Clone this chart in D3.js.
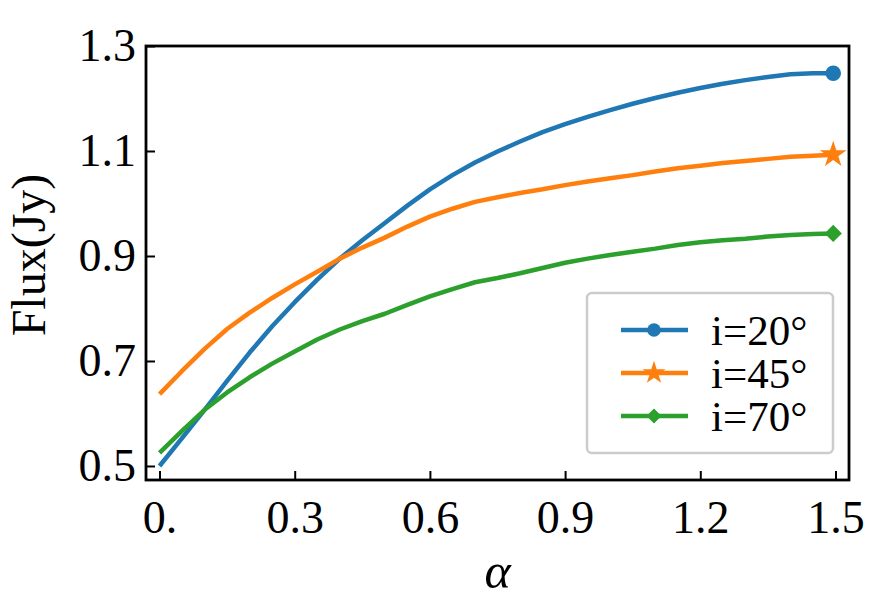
<!DOCTYPE html>
<meta charset="utf-8">
<script src="https://d3js.org/d3.v7.min.js"></script>
<style>
  body { margin: 0; background: #fff; }
  text { font-family: "Liberation Serif", "Times New Roman", serif; fill: #000; }
</style>
<div id="my_dataviz"></div>
<script>
// alpha values (x) and flux for each inclination
var alphas = [0, 0.05, 0.1, 0.15, 0.2, 0.25, 0.3, 0.35, 0.4, 0.45, 0.5, 0.55, 0.6, 0.65, 0.7, 0.75, 0.8, 0.85, 0.9, 0.95,
              1.0, 1.05, 1.1, 1.15, 1.2, 1.25, 1.3, 1.35, 1.4, 1.45, 1.495];
var flux20 = [0.500, 0.553, 0.607, 0.662, 0.716, 0.766, 0.812, 0.855, 0.895, 0.930, 0.963, 0.996, 1.027, 1.054, 1.078, 1.099, 1.118, 1.136, 1.151, 1.165,
              1.178, 1.190, 1.201, 1.211, 1.220, 1.228, 1.235, 1.241, 1.246, 1.248, 1.248];
var flux45 = [0.637, 0.681, 0.723, 0.761, 0.792, 0.820, 0.846, 0.870, 0.895, 0.916, 0.935, 0.956, 0.975, 0.990, 1.003, 1.012, 1.020, 1.027, 1.035, 1.042,
              1.048, 1.054, 1.061, 1.067, 1.072, 1.077, 1.081, 1.085, 1.089, 1.091, 1.093];
var flux70 = [0.525, 0.567, 0.607, 0.640, 0.669, 0.695, 0.718, 0.741, 0.760, 0.776, 0.790, 0.807, 0.823, 0.837, 0.850, 0.858, 0.867, 0.877, 0.887, 0.895,
              0.902, 0.908, 0.914, 0.921, 0.926, 0.930, 0.933, 0.937, 0.940, 0.942, 0.943];

var seriesNames = ["i=20°", "i=45°", "i=70°"];
var seriesColors = ["#1f77b4", "#ff7f0e", "#2ca02c"];

var xTicks = [0, 0.3, 0.6, 0.9, 1.2, 1.5];
var xTickLabels = ["0.", "0.3", "0.6", "0.9", "1.2", "1.5"];
var yTicks = [0.5, 0.7, 0.9, 1.1, 1.3];
var yTickLabels = ["0.5", "0.7", "0.9", "1.1", "1.3"];

var width = 872, height = 611;
var plot = {left: 146, right: 849, top: 46, bottom: 480};

var svg = d3.select("#my_dataviz")
  .append("svg")
    .attr("width", width)
    .attr("height", height);

var x = d3.scaleLinear()
  .domain([-0.03, 1.53])
  .range([plot.left, plot.right]);

var y = d3.scaleLinear()
  .domain([0.4733, 1.3])
  .range([plot.bottom, plot.top]);

// axes with inward ticks
var xAxis = svg.append("g")
  .attr("transform", "translate(0," + plot.bottom + ")")
  .call(d3.axisBottom(x).tickValues(xTicks).tickSize(-9).tickPadding(20)
    .tickFormat(function(d, i) { return xTickLabels[i]; }));
xAxis.select(".domain").remove();
xAxis.selectAll(".tick line").attr("stroke-width", 2);
xAxis.selectAll(".tick text")
  .attr("font-size", 46)
  .attr("font-family", "Liberation Serif")
  .attr("dy", "0.71em");

var yAxis = svg.append("g")
  .attr("transform", "translate(" + plot.left + ",0)")
  .call(d3.axisLeft(y).tickValues(yTicks).tickSize(-9).tickPadding(10)
    .tickFormat(function(d, i) { return yTickLabels[i]; }));
yAxis.select(".domain").remove();
yAxis.selectAll(".tick line").attr("stroke-width", 2);
yAxis.selectAll(".tick text")
  .attr("font-size", 46)
  .attr("font-family", "Liberation Serif");

// marker shapes (matplotlib style: circle, star, rotated square)
function marker(g, k, cx, cy, s) {
  if (k === 0) {
    g.append("circle").attr("cx", cx).attr("cy", cy).attr("r", 7.8 * s).attr("fill", seriesColors[k]);
  } else if (k === 1) {
    g.append("path")
      .attr("d", d3.symbol().type(d3.symbolStar).size(220 * s * s)())
      .attr("transform", "translate(" + cx + "," + cy + ")")
      .attr("fill", seriesColors[k]);
  } else {
    g.append("path")
      .attr("d", d3.symbol().type(d3.symbolSquare).size(150 * s * s)())
      .attr("transform", "translate(" + cx + "," + cy + ") rotate(45)")
      .attr("fill", seriesColors[k]);
  }
}

// lines
var allSeries = [flux20, flux45, flux70];
var line = d3.line()
  .x(function(d, i) { return x(alphas[i]); })
  .y(function(d) { return y(d); });

allSeries.forEach(function(vals, k) {
  svg.append("path")
    .datum(vals)
    .attr("fill", "none")
    .attr("stroke", seriesColors[k])
    .attr("stroke-width", 4.5)
    .attr("stroke-linejoin", "round")
    .attr("d", line);

  var last = vals.length - 1;
  marker(svg, k, x(alphas[last]), y(vals[last]), 1);
});

// frame
svg.append("rect")
  .attr("x", plot.left)
  .attr("y", plot.top)
  .attr("width", plot.right - plot.left)
  .attr("height", plot.bottom - plot.top)
  .attr("fill", "none")
  .attr("stroke", "#000")
  .attr("stroke-width", 2.8);

// legend
var legend = svg.append("g");
legend.append("rect")
  .attr("x", 587)
  .attr("y", 293)
  .attr("width", 246)
  .attr("height", 160)
  .attr("rx", 5)
  .attr("fill", "#fff")
  .attr("stroke", "#cccccc")
  .attr("stroke-width", 2.5);

seriesNames.forEach(function(name, k) {
  var ly = 330 + k * 43;
  legend.append("line")
    .attr("x1", 621).attr("x2", 688)
    .attr("y1", ly).attr("y2", ly)
    .attr("stroke", seriesColors[k])
    .attr("stroke-width", 4.5);
  marker(legend, k, 654, ly, 0.87);
  legend.append("text")
    .attr("x", 711)
    .attr("y", ly)
    .attr("dy", "0.35em")
    .attr("font-size", 43)
    .text(name);
});

// axis labels
svg.append("text")
  .attr("x", (plot.left + plot.right) / 2)
  .attr("y", 588)
  .attr("text-anchor", "middle")
  .attr("font-size", 50)
  .attr("font-style", "italic")
  .text("α");

svg.append("text")
  .attr("transform", "translate(45,255) rotate(-90)")
  .attr("text-anchor", "middle")
  .attr("font-size", 48)
  .text("Flux(Jy)");
</script>
